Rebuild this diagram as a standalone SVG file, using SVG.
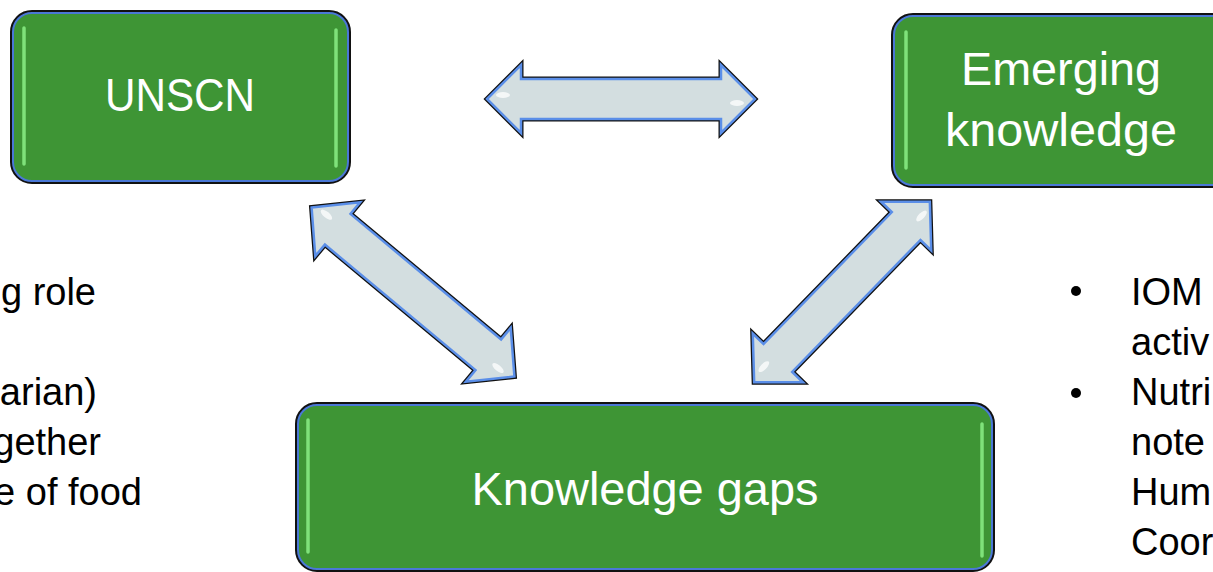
<svg xmlns="http://www.w3.org/2000/svg" width="1213" height="572" viewBox="0 0 1213 572">
<defs>
<style>
.box-o{fill:none;stroke:#111;stroke-width:4}
.box{fill:#3e9535;stroke:#4a78d6;stroke-width:2}
.glow{stroke:#7fe27a;stroke-width:3.5;stroke-linecap:round}
.bt{font-family:"Liberation Sans",Arial,sans-serif;font-size:46px;fill:#fff;text-anchor:middle}
.tx{font-family:"Liberation Sans",Arial,sans-serif;font-size:38px;fill:#000}
.ar-o{fill:none;stroke:#111;stroke-width:5;stroke-linejoin:miter}
.ar{fill:#d3dee0;stroke:#5a8ee8;stroke-width:2.5;stroke-linejoin:miter}
.hl{fill:#fff;opacity:0.75}
</style>
<path id="dbl" d="M-134,0 L-100,-34 L-100,-20 L100,-20 L100,-34 L134,0 L100,34 L100,20 L-100,20 L-100,34 Z"/>
<path id="dbld" d="M-132,0 L-98,-35 L-98,-20 L98,-20 L98,-35 L132,0 L98,35 L98,20 L-98,20 L-98,35 Z"/>
<path id="dbld2" d="M-126,0 L-92,-35 L-92,-20 L92,-20 L92,-35 L126,0 L92,35 L92,20 L-92,20 L-92,35 Z"/>
</defs>

<g id="node-unscn">
<rect x="12" y="12" width="337" height="170" rx="20" class="box-o"/>
<rect x="13" y="13" width="335" height="168" rx="19" class="box"/>
<line x1="24" y1="28" x2="24" y2="164" class="glow"/>
<line x1="336" y1="30" x2="336" y2="166" class="glow"/>
<text x="180" y="111" class="bt" textLength="150" lengthAdjust="spacingAndGlyphs">UNSCN</text>
</g>

<g id="node-emerging">
<rect x="893" y="15" width="360" height="171" rx="20" class="box-o"/>
<rect x="894" y="16" width="358" height="169" rx="19" class="box"/>
<line x1="906" y1="32" x2="906" y2="168" class="glow"/>
<text x="1061" y="85" class="bt" textLength="200" lengthAdjust="spacingAndGlyphs">Emerging</text>
<text x="1061" y="146" class="bt" textLength="232" lengthAdjust="spacingAndGlyphs">knowledge</text>
</g>

<g id="node-gaps">
<rect x="297" y="404" width="696" height="166" rx="20" class="box-o"/>
<rect x="298" y="405" width="694" height="164" rx="19" class="box"/>
<line x1="308" y1="420" x2="308" y2="552" class="glow"/>
<line x1="982" y1="424" x2="982" y2="556" class="glow"/>
<text x="645" y="505" class="bt" textLength="347" lengthAdjust="spacingAndGlyphs">Knowledge gaps</text>
</g>

<g id="connectors">
<g transform="translate(621,99)">
<use href="#dbl" class="ar-o"/>
<use href="#dbl" class="ar"/>
<ellipse cx="-118" cy="-4" rx="7" ry="3" class="hl"/>
<ellipse cx="116" cy="4" rx="7" ry="3" class="hl"/>
</g>
<g transform="translate(413,292) rotate(39.8)">
<use href="#dbld" class="ar-o"/>
<use href="#dbld" class="ar"/>
<ellipse cx="-116" cy="-4" rx="7" ry="3" class="hl"/>
<ellipse cx="114" cy="4" rx="7" ry="3" class="hl"/>
</g>
<g transform="translate(842,292) rotate(-45.8)">
<use href="#dbld2" class="ar-o"/>
<use href="#dbld2" class="ar"/>
<ellipse cx="-108" cy="-4" rx="7" ry="3" class="hl"/>
<ellipse cx="110" cy="4" rx="7" ry="3" class="hl"/>
</g>
</g>

<g id="left-text" class="tx">
<text x="96" y="305" text-anchor="end">g role</text>
<text x="97" y="405" text-anchor="end">arian)</text>
<text x="101" y="455" text-anchor="end">gether</text>
<text x="142" y="505" text-anchor="end">e of food</text>
</g>

<g id="right-text" class="tx">
<circle cx="1076" cy="291" r="5" fill="#000"/>
<circle cx="1076" cy="393" r="5" fill="#000"/>
<text x="1131" y="305">IOM</text>
<text x="1131" y="355">activ</text>
<text x="1131" y="405">Nutri</text>
<text x="1131" y="455">note</text>
<text x="1131" y="505">Hum</text>
<text x="1131" y="555">Coor</text>
</g>
</svg>
